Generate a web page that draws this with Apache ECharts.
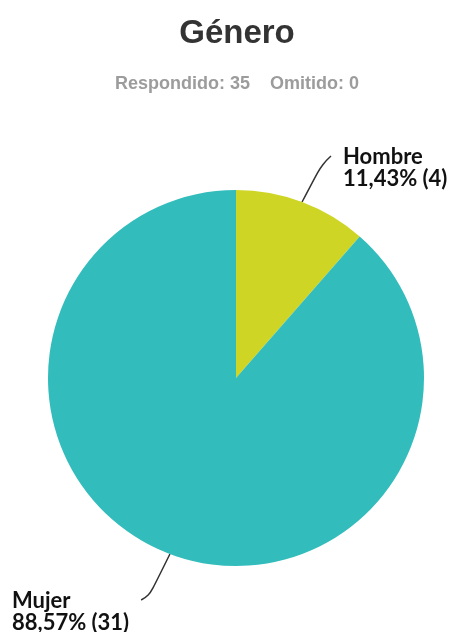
<!DOCTYPE html>
<html>
<head>
<meta charset="utf-8">
<script src="https://cdn.jsdelivr.net/npm/echarts@6/dist/echarts.min.js"></script>
<style>
  html, body { margin: 0; padding: 0; background: #fff; }
  #chart { width: 452px; height: 632px; }
</style>
</head>
<body>
<div id="chart"></div>
<script>
// Survey question: gender of respondents
const titleText = 'Género';
const answered = 35;
const skipped = 0;
const categories = ['Hombre', 'Mujer'];
const counts = [4, 31];
const sliceColors = ['#CFD525', '#32BCBC'];

// Where each outside label sits (left, top) and which side its leader line attaches to
const labelSpots = [[343, 146], [12, 590]];
const lineSide = ['left', 'right'];

const chart = echarts.init(document.getElementById('chart'), null, { renderer: 'canvas' });

const centerX = 236, centerY = 378, pieRadius = 188;

chart.setOption({
  backgroundColor: '#ffffff',
  animation: false,
  title: [{
    text: titleText,
    left: 232,
    top: 12,
    textAlign: 'center',
    textStyle: {
      fontFamily: 'Liberation Sans',
      fontWeight: 'bold',
      fontSize: 33,
      color: '#333333'
    }
  }, {
    text: 'Respondido: ' + answered + '    Omitido: ' + skipped,
    left: 232,
    top: 70,
    textAlign: 'center',
    textStyle: {
      fontFamily: 'Liberation Sans',
      fontWeight: 'bold',
      fontSize: 18,
      color: '#9c9c9c'
    }
  }],
  series: [{
    type: 'pie',
    center: [centerX, centerY],
    radius: pieRadius,
    startAngle: 90,
    clockwise: true,
    percentPrecision: 2,
    data: categories.map((name, i) => ({
      name: name,
      value: counts[i],
      itemStyle: { color: sliceColors[i] }
    })),
    label: {
      show: true,
      position: 'outside',
      formatter: p => p.name + '\n' + p.percent.toFixed(2).replace('.', ',') + '% (' + p.value + ')',
      fontFamily: 'Lato',
      fontWeight: 'bold',
      fontSize: 22,
      lineHeight: 22,
      color: '#111111',
      align: 'left'
    },
    labelLine: {
      show: true,
      smooth: 0.5,
      length: 20,
      length2: 10,
      lineStyle: { color: '#333333', width: 1.5 }
    },
    labelLayout: params => {
      const i = params.dataIndex;
      const [lx, ly] = labelSpots[i];
      const w = params.labelRect.width;
      const start = params.labelLinePoints[0];
      const midY = ly + 10;
      let end, bend;
      if (lineSide[i] === 'left') {
        end = [lx - 12, midY];
        bend = [end[0] - 9, end[1] + 8];
      } else {
        end = [lx + w + 12, midY];
        bend = [end[0] + 8, end[1] - 4];
      }
      return {
        x: lx,
        y: ly,
        align: 'left',
        verticalAlign: 'top',
        labelLinePoints: [start, bend, end]
      };
    }
  }]
});
</script>
</body>
</html>
